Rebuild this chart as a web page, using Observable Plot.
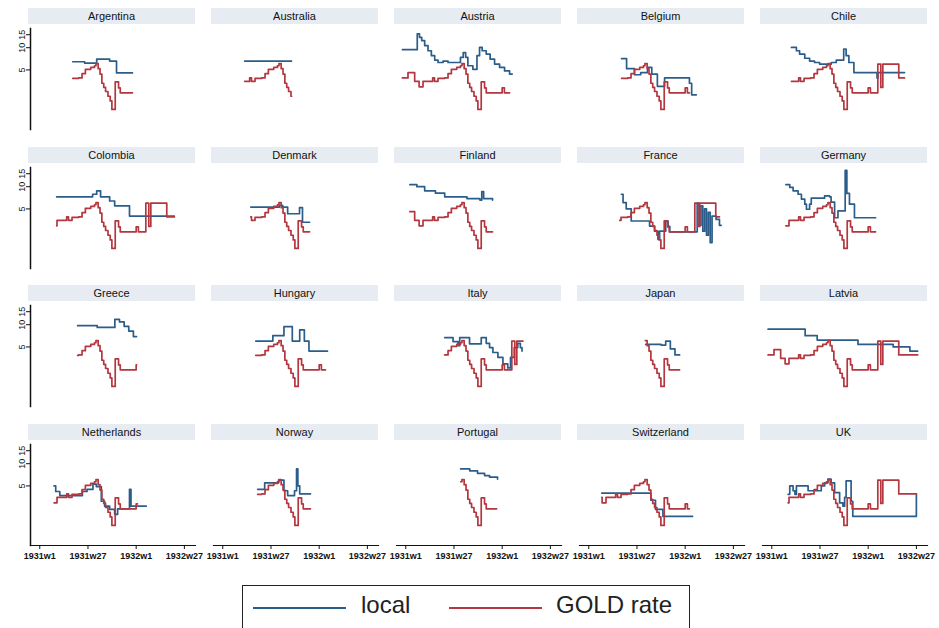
<!DOCTYPE html>
<html><head><meta charset="utf-8">
<script src="https://cdn.jsdelivr.net/npm/d3@7"></script>
<script src="https://cdn.jsdelivr.net/npm/@observablehq/plot@0.6"></script>
<style>
body{margin:0;background:#fff;font-family:"Liberation Sans",Arial,sans-serif;}
#wrap{position:relative;width:939px;height:628px;overflow:hidden;background:#fff;}
.hdr{position:absolute;height:16px;background:#e6ecf1;font-size:11px;line-height:16px;text-align:center;color:#111;}
.pnl{position:absolute;}
.pnl svg{overflow:visible;}
.legend{position:absolute;left:242px;top:585px;width:448px;height:60px;border:1.5px solid #222;box-sizing:border-box;font-size:24px;color:#222;}
.legend .ln{position:absolute;top:21px;height:0;border-top:2px solid;}
.legend .tx{position:absolute;top:5px;}
</style></head><body><div id="wrap"></div>
<script>
const countries = ["Argentina","Australia","Austria","Belgium","Chile",
  "Colombia","Denmark","Finland","France","Germany",
  "Greece","Hungary","Italy","Japan","Latvia",
  "Netherlands","Norway","Portugal","Switzerland","UK"];
const seriesNames = ["local","GOLD rate"];
const xTickWeeks = [0, 26, 52, 78];
const xTickLabels = ["1931w1","1931w27","1932w1","1932w27"];
const yTicks = [5, 10, 15];

// GOLD rate (same series shown in every panel, over each country's sample window)
const goldWeeks  = [-2, 1.2, 4.8, 7.2, 9.3, 14.5, 15.5, 17.4, 21, 22.8, 24.6, 27.5, 29.5, 30.3, 31.5, 32.5, 33.5, 34.5, 35.5, 36.8, 38, 38.9, 40.7, 42.5, 43.4, 52, 53.2, 57.2, 58.8, 59.9, 68.5, 79];
const goldValues = [3.9, 4.6, 3.5, 2.95, 3.5, 3.9, 3.5, 3.85, 3.9, 4.45, 5.1, 5.4, 5.7, 6.1, 5.2, 4.4, 3.3, 2.9, 2.55, 2.2, 1.9, 1.46, 3.45, 2.85, 2.45, 2.85, 2.45, 6.0, 2.9, 6.0, 3.9, 3.9];
const goldStart = [17.8, 11.8, -1.8, 17.7, 10.6, 9.1, 15.1, 2.2, 16.7, 7.6, 20.4, 17.8, 21, 30.5, -2, 7.7, 18.8, 29.6, 7, 8.8];
const goldEnd   = [50, 37.1, 56, 54.3, 71.6, 72.6, 46.8, 46.8, 70.5, 56, 52.2, 55.4, 63.2, 49, 78.7, 52.7, 47.3, 49, 54.3, 78];

// local rates: [week, value]
const localArgentina = [[17.8,6.45],[24.2,6.2],[30.7,7.0],[37.7,6.6],[41.4,4.55],[50,4.55]];
const localAustralia = [[11.8,6.6],[37.1,6.6]];
const localAustria = [[-1.8,9.4],[6.2,15.4],[7.4,13.8],[8.6,12.5],[10.2,10.7],[12,9.1],[13.8,7.8],[15.6,6.8],[17.4,6.3],[20.1,6.6],[22.8,6.3],[29.5,7.4],[31,8.6],[32.3,7.4],[33.5,5.7],[36.2,5.1],[38.4,7.8],[39.8,10.1],[41.2,9.1],[43.4,8.2],[45.5,7.0],[47.9,6.0],[50.6,5.4],[53.3,4.85],[56,4.4],[57.4,4.4]];
const localBelgium = [[17.7,7.1],[20.4,5.2],[24.7,4.3],[28,4.6],[31.7,5.4],[34,4.4],[37,3.0],[40.9,3.9],[54.3,3.3],[55.5,2.3],[58,2.3]];
const localChile = [[10.6,10.1],[13.3,9.1],[15,8.2],[17.8,7.2],[20.4,6.6],[23.1,6.3],[25.8,6.0],[32.1,6.3],[34.8,6.8],[38.8,9.6],[40.1,7.8],[41.6,6.3],[44.3,4.6],[56.3,4.6],[56.8,3.9],[57.3,4.6],[71.6,4.6]];
const localColombia = [[9.1,7.3],[28.5,7.9],[30.7,8.8],[32.8,7.3],[37.7,6.4],[40.4,5.5],[48.4,4.0],[72.6,4.0]];
const localDenmark = [[15.1,5.3],[29,5.3],[30.5,5.6],[32.3,5.3],[35,4.3],[41.4,5.2],[43,3.3],[46.8,3.3]];
const localFinland = [[2.2,10.7],[6,10.0],[10.2,8.8],[16,8.2],[21,7.3],[33,6.9],[40,6.6],[41,8.6],[42,6.9],[46.8,6.6]];
const localFrance = [[17.6,7.9],[18.5,6.1],[20.2,5.0],[22.9,3.43],[32.8,2.93],[35.5,2.5],[37.3,1.94],[38.2,2.5],[41.5,3.43],[42.8,2.9],[43.7,2.45],[57,2.45],[58.5,6.0],[59.5,3.0],[60.5,5.5],[61.5,2.5],[62.5,5.0],[63.5,2.2],[64.5,4.5],[65.5,1.75],[66.5,4.0],[68.7,3.6],[70.5,3.0],[71.4,3.0]];
const localGermany = [[7.6,10.7],[9.7,9.8],[11.5,8.8],[14.2,7.9],[16,6.8],[17.8,5.8],[18.7,4.95],[20.4,5.8],[21.3,7.0],[28.5,7.5],[31.2,7.3],[32,6.2],[33.9,3.8],[35.7,4.7],[39.6,16.6],[40.5,8.1],[41.9,5.8],[44.6,3.8],[56,3.8]];
const localGreece = [[20.4,9.7],[31,9.2],[40.5,11.8],[43,10.9],[45.5,9.5],[48,8.2],[50.5,6.9],[52.2,6.9]];
const localHungary = [[17.8,6.0],[27,7.1],[33,9.4],[37.5,6.0],[41.5,8.5],[44,6.0],[46.5,4.4],[56.5,4.4]];
const localItaly = [[21,6.7],[25.5,5.9],[28.2,5.2],[29.1,6.7],[34.4,5.5],[40.7,6.7],[43.4,5.6],[45.2,4.9],[47,4.2],[49.7,3.6],[52.4,2.95],[55,2.6],[56.5,3.6],[58.5,4.9],[60.4,5.6],[61.8,4.9],[62.7,4.4]];
const localJapan = [[30.7,5.4],[39,5.3],[41.5,6.0],[44,4.7],[46.5,3.9],[49,3.9]];
const localLatvia = [[-2,8.7],[18,7.1],[24.5,6.2],[46.5,5.4],[65.5,5.0],[74.5,4.4],[78.7,4.4]];
const localNetherlands = [[7.7,5.0],[8.6,4.2],[10.8,3.7],[20.6,3.7],[23,4.2],[25.5,4.5],[28.7,5.3],[30.5,4.9],[33.2,3.1],[35,2.66],[37.7,2.4],[40.4,2.06],[42,2.45],[48,2.45],[48.4,4.5],[49.2,2.66],[57.4,2.66]];
const localNorway = [[18.8,4.5],[22.6,5.5],[30.1,6.0],[33,4.3],[35,3.7],[38.7,4.3],[39.8,8.5],[40.5,5.0],[41.5,3.9],[47.3,3.9]];
const localPortugal = [[29.6,8.5],[34.5,8.0],[38.7,7.4],[42.5,6.9],[45.2,6.6],[49.5,6.2]];
const localSwitzerland = [[7,4.0],[31.2,4.0],[33.5,3.2],[36,2.4],[40,1.94],[56,1.94]];
const localUK = [[8.8,3.85],[9.7,5.0],[11.5,4.3],[12.5,3.85],[13.3,5.0],[19.6,4.3],[26.7,5.0],[28.5,5.5],[30.3,6.2],[32,5.5],[33.9,4.05],[36.6,2.95],[38.4,2.66],[39.3,3.5],[40.1,5.85],[42,5.85],[42.8,3.1],[43.7,1.94],[78,3.9]];

const localSeries = [localArgentina, localAustralia, localAustria, localBelgium, localChile,
  localColombia, localDenmark, localFinland, localFrance, localGermany,
  localGreece, localHungary, localItaly, localJapan, localLatvia,
  localNetherlands, localNorway, localPortugal, localSwitzerland, localUK];

const colors = {"local": "#2b5d8a", "GOLD rate": "#b3373f"};

function goldAt(w) {
  let v = goldValues[0];
  for (let k = 0; k < goldWeeks.length; k++) if (goldWeeks[k] <= w) v = goldValues[k];
  return v;
}
function goldWindow(i) {
  const s = goldStart[i], e = goldEnd[i];
  const pts = [{week: s, value: goldAt(s)}];
  goldWeeks.forEach((w, k) => { if (w > s && w < e) pts.push({week: w, value: goldValues[k]}); });
  pts.push({week: e, value: goldAt(e)});
  return pts;
}

const wrap = document.getElementById("wrap");
const colStep = 183, rowStep = 138.7, plotW = 165, plotH = 101;

countries.forEach((name, i) => {
  const r = Math.floor(i / 5), c = i % 5;
  const first = c === 0, bottom = r === 3;
  const hdr = document.createElement("div");
  hdr.className = "hdr";
  hdr.style.left = (28 + c * colStep) + "px";
  hdr.style.top = (8 + r * rowStep) + "px";
  hdr.style.width = "167px";
  hdr.textContent = name;
  wrap.appendChild(hdr);

  const ml = first ? 30 : 0, mb = bottom ? 22 : 0;
  const local = localSeries[i].map(([week, value]) => ({week, value}));
  const gold = goldWindow(i);
  const plot = Plot.plot({
    width: ml + plotW, height: plotH + mb,
    marginLeft: ml, marginRight: 0, marginTop: 0, marginBottom: mb,
    style: {background: "transparent", fontFamily: "Liberation Sans, Arial, sans-serif", color: "#111"},
    x: {domain: [-5, 84], axis: bottom ? undefined : null},
    y: {type: "log", domain: [0.78, 18.2], axis: first ? undefined : null},
    marks: [
      first ? Plot.axisY({ticks: yTicks, tickSize: 4, tickRotate: -90, tickPadding: 2, fontSize: 9, tickFormat: d => String(d), label: null}) : null,
      first ? Plot.frame({anchor: "left", strokeWidth: 1.5, stroke: "#111"}) : null,
      bottom ? Plot.axisX({ticks: xTickWeeks, tickSize: 4, tickPadding: 3, fontSize: 9, fontWeight: "bold", tickFormat: d => xTickLabels[xTickWeeks.indexOf(d)], label: null}) : null,
      bottom ? Plot.frame({anchor: "bottom", strokeWidth: 1.2, stroke: "#111"}) : null,
      Plot.line(local, {x: "week", y: "value", stroke: colors["local"], strokeWidth: 1.7, curve: "step-after"}),
      Plot.line(gold, {x: "week", y: "value", stroke: colors["GOLD rate"], strokeWidth: 1.7, curve: "step-after"})
    ]
  });
  const holder = document.createElement("div");
  holder.className = "pnl";
  holder.style.left = (30 + c * colStep - ml) + "px";
  holder.style.top = (28 + r * rowStep) + "px";
  holder.appendChild(plot);
  wrap.appendChild(holder);
});

// legend
const leg = document.createElement("div");
leg.className = "legend";
const legPos = [{line: 10, text: 118}, {line: 206, text: 313}];
seriesNames.forEach((s, k) => {
  const ln = document.createElement("div");
  ln.className = "ln";
  ln.style.left = legPos[k].line + "px";
  ln.style.width = "93px";
  ln.style.borderTopColor = colors[s];
  leg.appendChild(ln);
  const tx = document.createElement("div");
  tx.className = "tx";
  tx.style.left = legPos[k].text + "px";
  tx.textContent = s;
  leg.appendChild(tx);
});
wrap.appendChild(leg);
</script>
</body></html>
